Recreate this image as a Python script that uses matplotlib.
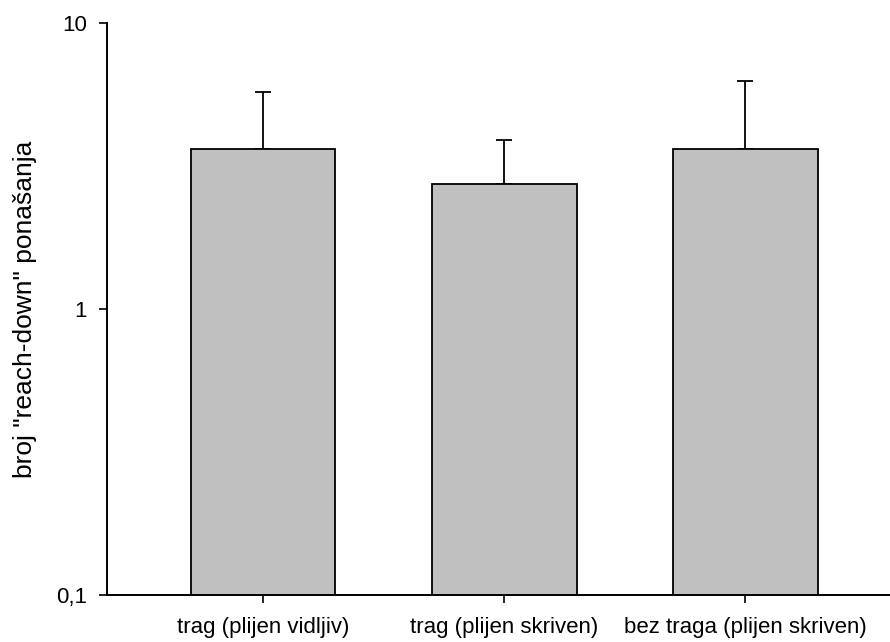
import matplotlib

matplotlib.use("Agg")
import matplotlib.pyplot as plt
from matplotlib.ticker import FixedLocator, NullLocator

plt.rcParams["font.family"] = ["Liberation Sans", "DejaVu Sans"]

categories = ["trag (plijen vidljiv)", "trag (plijen skriven)", "bez traga (plijen skriven)"]
means = [3.63, 2.74, 3.63]
errors_up = [2.11, 1.16, 2.64]
ytick_values = [0.1, 1, 10]
ytick_labels = ["0,1", "1", "10"]

fig = plt.figure(figsize=(8.9, 6.42), dpi=100)
ax = fig.add_axes([0.1202, 0.0732, 0.8798, 0.891])

x = list(range(len(categories)))
ax.bar(x, means, width=0.6, color="#c0c0c0", edgecolor="black", linewidth=1.3, zorder=2)
# only the upper half of the error bars is shown
ax.errorbar(x, means, yerr=[[0] * len(means), errors_up], fmt="none",
            ecolor="black", elinewidth=1.3, capsize=6, capthick=1.3, zorder=1)

ax.set_yscale("log")
ax.set_ylim(0.1, 10)
ax.set_xlim(-0.647, 2.60)
ax.yaxis.set_major_locator(FixedLocator(ytick_values))
ax.yaxis.set_minor_locator(NullLocator())
ax.set_yticklabels(ytick_labels)
ax.set_xticks(x)
ax.set_xticklabels(categories)

for side in ["top", "right"]:
    ax.spines[side].set_visible(False)
for side in ["left", "bottom"]:
    ax.spines[side].set_linewidth(1.4)

ax.tick_params(axis="both", direction="out", length=6, width=1.2, labelsize=16)
ax.tick_params(axis="y", pad=8.5)
ax.tick_params(axis="x", pad=9.5)
ax.set_ylabel('broj "reach-down" ponašanja', fontsize=19)
ax.yaxis.set_label_coords(-0.0894, 0.5)

fig.savefig("out.png", dpi=100)
